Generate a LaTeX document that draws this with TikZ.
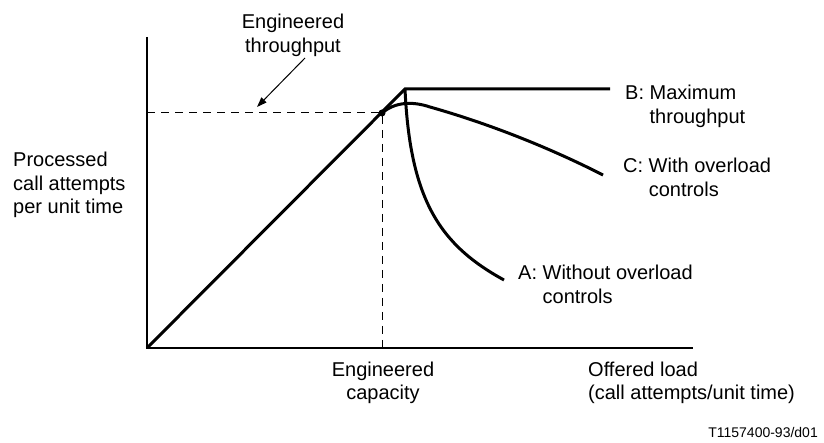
\documentclass[tikz,border=0pt]{standalone}
\usepackage{fontspec}
\setmainfont{Liberation Sans}
\usetikzlibrary{arrows.meta}
\begin{document}
\begin{tikzpicture}[x=1pt,y=-1pt,
  lbl/.style={inner sep=0pt, font=\fontsize{20}{23.5}\selectfont},
  smalllbl/.style={inner sep=0pt, font=\fontsize{14}{17}\selectfont},
  axis/.style={line width=1.2pt},
  curve/.style={line width=3pt},
  guide/.style={line width=1pt, dash pattern=on 8pt off 6pt},
  pointer/.style={line width=1pt, -{Triangle[length=10pt,width=7pt]}}]
\useasboundingbox (0,0) rectangle (824,443);
% geometry
\coordinate (O) at (147,348);
\coordinate (Ytop) at (147,37);
\coordinate (Xend) at (693,348);
\coordinate (P) at (405,89);
\coordinate (E) at (382,113);
\coordinate (Ebase) at (382,348);
\coordinate (Eleft) at (147,113);
\coordinate (Bend) at (610,89);
\coordinate (Cend) at (603,175);
\coordinate (Aend) at (504,280);
\coordinate (arrS) at (305,58);
\coordinate (arrE) at (257,107);
% axes and guides
\draw[axis] (Ytop) -- (O) -- (Xend);
\draw[guide] (Eleft) -- (E) -- (Ebase);
% curves
\draw[curve] (O) -- (P) -- (Bend);
\draw[curve] (E) .. controls (395,102) and (412,101) .. (430,107)
  .. controls (490,124) and (550,148) .. (Cend);
\draw[curve] (P) .. controls (410,200) and (440,245) .. (Aend);
\fill (E) circle[radius=3.5pt];
% labels (base anchor = baseline of last line)
\node[lbl, anchor=base, align=center] (tput) at (293,52.5) {Engineered\\throughput};
\draw[pointer] (arrS) -- (arrE);
\node[lbl, anchor=base west, align=left] (ylab) at (13,214) {Processed\\call attempts\\per unit time};
\node[lbl, anchor=base, align=center] (cap) at (383,399.5) {Engineered\\capacity};
\node[lbl, anchor=base west, align=left] (xlab) at (588,399.5) {Offered load\\(call attempts/unit time)};
\node[lbl, anchor=base west, align=left] (blab) at (625,123.5) {B: Maximum\\\hphantom{B: }throughput};
\node[lbl, anchor=base west, align=left] (clab) at (623,196.5) {C: With overload\\\hphantom{C: }controls};
\node[lbl, anchor=base west, align=left] (alab) at (518,303.5) {A: Without overload\\\hphantom{A: }controls};
\node[smalllbl, anchor=base east] (ref) at (818,437) {T1157400-93/d01};
\end{tikzpicture}
\end{document}
